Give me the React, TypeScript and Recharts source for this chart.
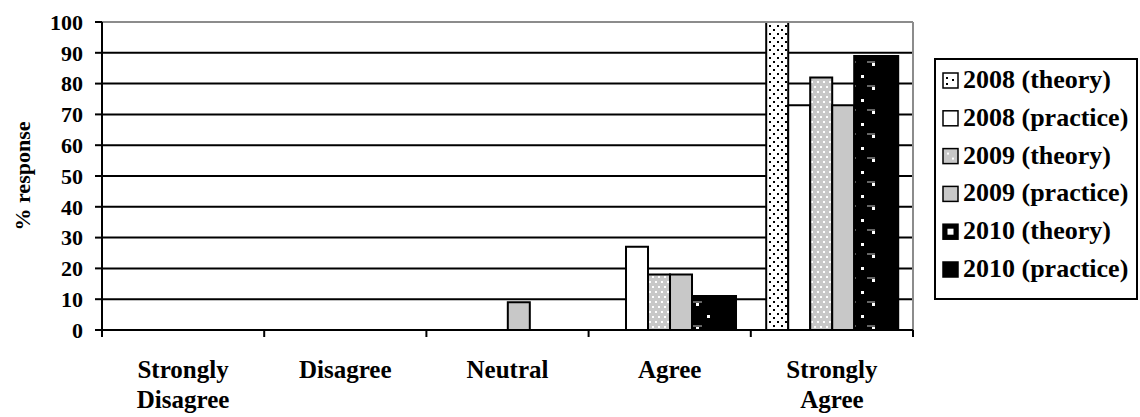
import React from 'react';
import { BarChart, Bar, XAxis, YAxis, CartesianGrid, ReferenceLine } from 'recharts';

const categories = ['Strongly Disagree', 'Disagree', 'Neutral', 'Agree', 'Strongly Agree'];
const theory2008 = [0, 0, 0, 0, 100];
const practice2008 = [0, 0, 0, 27, 73];
const theory2009 = [0, 0, 0, 18, 82];
const practice2009 = [0, 0, 9, 18, 73];
const theory2010 = [0, 0, 0, 11, 89];
const practice2010 = [0, 0, 0, 11, 89];
const yTicks = [0, 10, 20, 30, 40, 50, 60, 70, 80, 90, 100];
const yLabel = '% response';

const FONT = 'Liberation Serif';

const series = [
  { key: 't2008', name: '2008 (theory)', values: theory2008, fill: 'url(#pat2008t)' },
  { key: 'p2008', name: '2008 (practice)', values: practice2008, fill: '#ffffff' },
  { key: 't2009', name: '2009 (theory)', values: theory2009, fill: 'url(#pat2009t)' },
  { key: 'p2009', name: '2009 (practice)', values: practice2009, fill: '#c8c8c8' },
  { key: 't2010', name: '2010 (theory)', values: theory2010, fill: 'url(#pat2010t)' },
  { key: 'p2010', name: '2010 (practice)', values: practice2010, fill: '#000000' },
];

const data = categories.map((c, i) => {
  const row: any = { category: c };
  series.forEach((s) => {
    row[s.key] = s.values[i];
  });
  return row;
});

const textStyle = { fontFamily: FONT, fontWeight: 700 } as React.CSSProperties;

const CategoryTick = (props: any) => {
  const { x, y, payload, width, visibleTicksCount, index } = props;
  const count = visibleTicksCount || categories.length;
  const half = payload && typeof payload.offset === 'number' && payload.offset > 0 ? payload.offset : width / count / 2;
  const lines = String(payload.value).split(' ');
  const top = y - 7;
  return (
    <g>
      <line x1={x - half} y1={top} x2={x - half} y2={y} stroke="#000" strokeWidth={2} />
      {index === count - 1 && <line x1={x + half} y1={top} x2={x + half} y2={y} stroke="#000" strokeWidth={2} />}
      <text x={x} y={y} textAnchor="middle" style={{ ...textStyle, fontSize: 25 }} fill="#000">
        {lines.map((l, i) => (
          <tspan key={i} x={x} y={y + 41 + i * 30}>
            {l}
          </tspan>
        ))}
      </text>
    </g>
  );
};

const YTick = (props: any) => {
  const { x, y, payload } = props;
  return (
    <text x={x} y={y} dy="0.35em" textAnchor="end" style={{ ...textStyle, fontSize: 22 }} fill="#000">
      {payload.value}
    </text>
  );
};

const YLabel = (props: any) => {
  const vb = props.viewBox || { x: 0, y: 22, width: 102, height: 308 };
  const cx = vb.x + 22;
  const cy = vb.y + vb.height / 2;
  return (
    <text
      x={cx}
      y={cy}
      transform={`rotate(-90 ${cx} ${cy})`}
      textAnchor="middle"
      dominantBaseline="central"
      style={{ ...textStyle, fontSize: 22 }}
      fill="#000"
    >
      {yLabel}
    </text>
  );
};

const Swatch = ({ s, x, y, size }: any) => {
  if (s.key === 't2010') {
    return (
      <g>
        <rect x={x} y={y} width={size} height={size} fill="#000" stroke="#000" strokeWidth={1.5} />
        <rect x={x + size / 2 - 3} y={y + size / 2 - 3} width={6} height={6} fill="#fff" />
      </g>
    );
  }
  if (s.key === 't2008') {
    return (
      <g>
        <rect x={x} y={y} width={size} height={size} fill="#fff" stroke="#000" strokeWidth={1.5} />
        <rect x={x + 3} y={y + 4} width={2} height={2} fill="#000" />
        <rect x={x + 9} y={y + 6} width={2} height={2} fill="#000" />
        <rect x={x + 3} y={y + 10} width={2} height={2} fill="#000" />
      </g>
    );
  }
  if (s.key === 't2009') {
    return (
      <g>
        <rect x={x} y={y} width={size} height={size} fill="#c8c8c8" stroke="#000" strokeWidth={1.5} />
        <rect x={x + 4} y={y + 4} width={2} height={2} fill="#fff" />
        <rect x={x + 9} y={y + 9} width={2} height={2} fill="#fff" />
      </g>
    );
  }
  return <rect x={x} y={y} width={size} height={size} fill={s.fill} stroke="#000" strokeWidth={1.5} />;
};

const LegendBox = () => {
  const w = 204;
  const h = 242;
  const step = 37.8;
  return (
    <svg width={w} height={h} style={{ position: 'absolute', left: 934, top: 58 }}>
      <rect x={1} y={1} width={w - 2} height={h - 2} fill="#fff" stroke="#000" strokeWidth={2} />
      {series.map((s, i) => (
        <g key={s.key}>
          <Swatch s={s} x={9} y={15 + i * step} size={15} />
          <text x={29} y={30 + i * step} style={{ ...textStyle, fontSize: 26 }} fill="#000">
            {s.name}
          </text>
        </g>
      ))}
    </svg>
  );
};

export default function App() {
  return (
    <div style={{ position: 'absolute', left: 0, top: 0, width: 1140, height: 417, background: '#fff' }}>
      <BarChart
        width={1140}
        height={417}
        data={data}
        margin={{ top: 22, right: 227, bottom: 0, left: 0 }}
        barGap={0}
        barCategoryGap="9.5%"
      >
        <defs>
          <pattern id="pat2008t" width="8" height="8" patternUnits="userSpaceOnUse">
            <rect width="8" height="8" fill="#fff" />
            <rect x="1" y="1" width="2" height="2" fill="#000" />
            <rect x="5" y="5" width="2" height="2" fill="#000" />
          </pattern>
          <pattern id="pat2009t" width="12" height="10" patternUnits="userSpaceOnUse">
            <rect width="12" height="10" fill="#c8c8c8" />
            <rect x="1" y="1" width="2" height="2" fill="#fff" />
            <rect x="7" y="1" width="2" height="2" fill="#fff" />
            <rect x="4" y="6" width="2" height="2" fill="#fff" />
            <rect x="10" y="6" width="2" height="2" fill="#fff" />
          </pattern>
          <pattern id="pat2010t" width="22" height="24" patternUnits="userSpaceOnUse">
            <rect width="22" height="24" fill="#000" />
            <rect x="3" y="3" width="3" height="3" fill="#fff" />
            <rect x="14" y="15" width="3" height="3" fill="#fff" />
            <line x1="9" y1="14" x2="20" y2="14" stroke="#fff" strokeWidth={0.8} />
          </pattern>
        </defs>
        <CartesianGrid vertical={false} stroke="#000" strokeWidth={2} />
        <XAxis
          dataKey="category"
          interval={0}
          height={87}
          tickLine={false}
          tickSize={7}
          tickMargin={0}
          axisLine={{ stroke: '#000', strokeWidth: 2 }}
          tick={<CategoryTick />}
        />
        <YAxis
          type="number"
          domain={[0, 100]}
          ticks={yTicks}
          interval={0}
          width={102}
          tickSize={7}
          tickMargin={12}
          axisLine={{ stroke: '#000', strokeWidth: 2 }}
          tickLine={{ stroke: '#000', strokeWidth: 2 }}
          tick={<YTick />}
          label={<YLabel />}
        />
        <ReferenceLine y={100} stroke="#8c8c8c" strokeWidth={2} />
        <ReferenceLine x={categories[categories.length - 1]} position="end" stroke="#8c8c8c" strokeWidth={2} />
        {series.map((s) => (
          <Bar
            key={s.key}
            dataKey={s.key}
            name={s.name}
            fill={s.fill}
            stroke="#000"
            strokeWidth={2}
            isAnimationActive={false}
          />
        ))}
      </BarChart>
      <LegendBox />
    </div>
  );
}
